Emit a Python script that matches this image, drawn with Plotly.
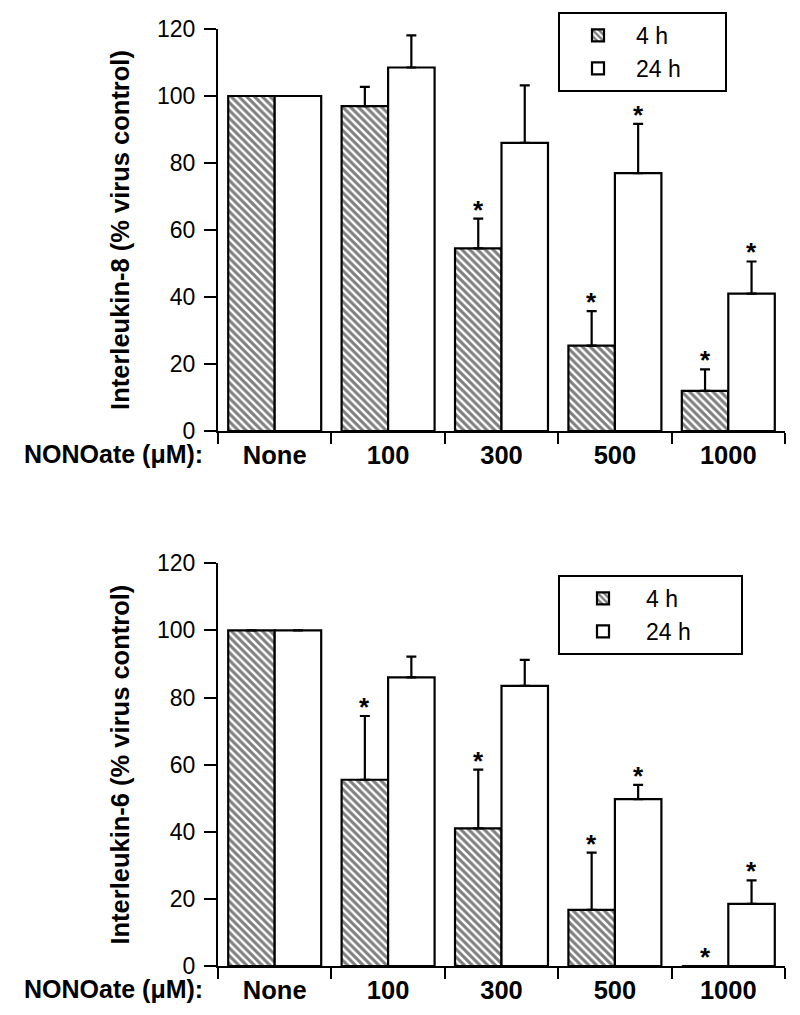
import plotly.graph_objects as go

# ---------------- data ----------------
categories = ["None", "100", "300", "500", "1000"]

il8_4h = [100, 97, 54.5, 25.5, 12]
il8_4h_err = [None, 5.7, 8.9, 10.3, 6.4]
il8_24h = [100, 108.5, 86, 77, 41]
il8_24h_err = [None, 9.6, 17.2, 14.7, 9.6]
il8_4h_sig = [False, False, True, True, True]
il8_24h_sig = [False, False, False, True, True]

il6_4h = [100, 55.5, 41, 16.7, 0]
il6_4h_err = [None, 19, 17.5, 17.1, None]
il6_24h = [100, 86, 83.5, 49.7, 18.5]
il6_24h_err = [None, 6.2, 7.7, 4.3, 7]
il6_4h_sig = [False, True, True, True, True]
il6_24h_sig = [False, False, False, True, True]

series_names = ["4 h", "24 h"]
y_ticks = [0, 20, 40, 60, 80, 100, 120]
y_titles = ["Interleukin-8 (% virus control)", "Interleukin-6 (% virus control)"]
x_prefix = "NONOate (\u03bcM):"

# ---------------- layout constants ----------------
PAGE = 8  # default body margin of the html page
W, H = 800 - PAGE, 1015 - PAGE
ML, MR, MT, MB = 218 - PAGE, 15, 10 - PAGE, 49
BARGAP = 0.18
FONT = "Arial, Liberation Sans, Helvetica, sans-serif"

plot_w = W - ML - MR
cat_w = plot_w / len(categories)
bar_w = cat_w * (1 - BARGAP) / 2
plot_h = H - MT - MB
bottom_px = H - MB


def py(px):
    """screen pixel row -> paper fraction"""
    return (bottom_px - (px - PAGE)) / plot_h


def px_(x):
    """screen pixel column -> paper fraction"""
    return (x - PAGE - ML) / plot_w


top_domain = [py(431), py(29)]
bot_domain = [0.0, py(563.3)]

fig = go.Figure()

panels = [
    (il8_4h, il8_4h_err, il8_4h_sig, il8_24h, il8_24h_err, il8_24h_sig, "x", "y", "legend", 6),
    (il6_4h, il6_4h_err, il6_4h_sig, il6_24h, il6_24h_err, il6_24h_sig, "x2", "y2", "legend2", 7),
]

annotations = []
for (v4, e4, s4, v24, e24, s24, xa, ya, lg, npad) in panels:
    pad = "\u00a0" * npad  # widen the legend box to the right
    for name, vals, errs, hatched in [(series_names[0], v4, e4, True), (series_names[1], v24, e24, False)]:
        fig.add_trace(go.Bar(
            x=categories, y=vals, name=name + pad, xaxis=xa, yaxis=ya, legend=lg,
            marker=dict(
                color="white",
                line=dict(color="black", width=2.2),
                pattern=dict(shape="\\" if hatched else "", fgcolor="black",
                             bgcolor="white", size=5.5, solidity=0.55),
            ),
            error_y=dict(type="data", array=[e if e is not None else 0 for e in errs],
                         arrayminus=[0] * len(errs), symmetric=False,
                         color="black", thickness=2.2, width=5, visible=True),
        ))
    # stars (category index used as x so numeric-looking names are not read as positions)
    for vals, errs, sig, shift in [(v4, e4, s4, -bar_w / 2), (v24, e24, s24, bar_w / 2)]:
        for i, (v, e, s) in enumerate(zip(vals, errs, sig)):
            if s:
                top = v + (e if e is not None else 0)
                annotations.append(dict(
                    x=i, y=top, xref=xa, yref=ya, text="<b>*</b>", showarrow=False,
                    xanchor="center", yanchor="bottom", xshift=shift, yshift=-8,
                    font=dict(family=FONT, size=26, color="black"),
                ))
    # x prefix label
    yd = "y domain" if ya == "y" else "y2 domain"
    xd = "x domain" if xa == "x" else "x2 domain"
    annotations.append(dict(
        x=0, y=0, xref=xd, yref=yd, text="<b>" + x_prefix + "</b>", showarrow=False,
        xanchor="right", yanchor="middle", xshift=-13, yshift=-23,
        font=dict(family=FONT, size=25, color="black"),
    ))

axis_common = dict(showline=True, linecolor="black", linewidth=2, ticks="outside",
                   tickcolor="black", tickwidth=2, showgrid=False, zeroline=False,
                   automargin=False)
xrange = [-0.5, len(categories) - 0.5]
xaxis_style = dict(type="category", tickson="boundaries", ticklen=11, range=xrange, tickangle=0,
                   tickfont=dict(size=25.5, weight="bold"), **axis_common)
yaxis_style = dict(range=[0, 120], tickvals=y_ticks, ticklen=12, ticklabelstandoff=4,
                   tickfont=dict(size=23), **axis_common)
legend_style = dict(xanchor="left", yanchor="top", bordercolor="black", borderwidth=2,
                    bgcolor="white", font=dict(size=23), tracegroupgap=0)

fig.update_layout(
    width=W, height=H,
    margin=dict(l=ML, r=MR, t=MT, b=MB, autoexpand=False),
    paper_bgcolor="white", plot_bgcolor="white",
    barmode="group", bargap=BARGAP, bargroupgap=0,
    font=dict(family=FONT, color="black"),
    annotations=annotations,
    xaxis=dict(domain=[0, 1], anchor="y", **xaxis_style),
    xaxis2=dict(domain=[0, 1], anchor="y2", **xaxis_style),
    yaxis=dict(domain=top_domain, anchor="x",
               title=dict(text=y_titles[0], font=dict(size=25.5, weight="bold"), standoff=20),
               **yaxis_style),
    yaxis2=dict(domain=bot_domain, anchor="x2",
                title=dict(text=y_titles[1], font=dict(size=25.5, weight="bold"), standoff=20),
                **yaxis_style),
    legend=dict(x=px_(558), y=py(12), itemwidth=66, **legend_style),
    legend2=dict(x=px_(558), y=py(575), itemwidth=76, **legend_style),
)

fig.write_html("out.html")
